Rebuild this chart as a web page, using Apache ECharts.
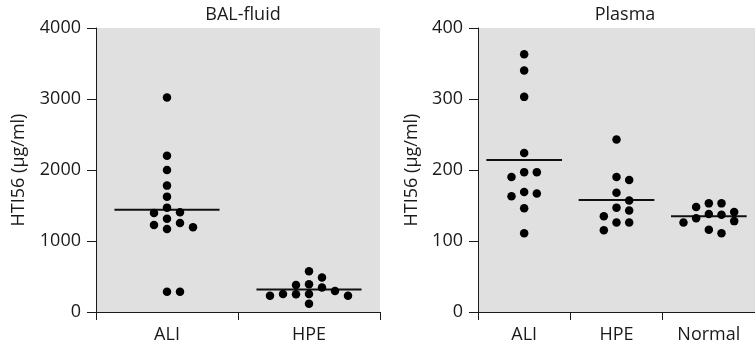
<!DOCTYPE html>
<html>
<head>
<meta charset="utf-8">
<script src="https://cdn.jsdelivr.net/npm/echarts@6/dist/echarts.min.js"></script>
<style>
html,body{margin:0;padding:0;background:#fff;}
#chart{width:755px;height:347px;}
</style>
</head>
<body>
<div id="chart"></div>
<script>
// ---- data ----
const balCategories = ['ALI', 'HPE'];
const balALI = [3020, 2200, 2000, 1780, 1625, 1470, 1405, 1395, 1315, 1255, 1225, 1195, 1170, 285, 285];
const balHPE = [575, 485, 390, 380, 345, 295, 255, 255, 250, 230, 230, 115];
const balTicks = [0, 1000, 2000, 3000, 4000];

const plasmaCategories = ['ALI', 'HPE', 'Normal'];
const plasmaALI = [363, 340, 303, 224, 197, 197, 190, 169, 167, 163, 146, 111];
const plasmaHPE = [243, 190, 186, 168, 157, 147, 143, 135, 126, 126, 115];
const plasmaNormal = [153, 153, 148, 141, 138, 137, 132, 128, 126, 116, 111];
const plasmaTicks = [0, 100, 200, 300, 400];

const titles = ['BAL-fluid', 'Plasma'];
const yName = 'HTI56 (µg/ml)';

// ---- layout ----
const FONT = 'Open Sans';
const FS = 18;
const GRID_TOP = 28, GRID_H = 284, GRID_W = 284;
const grids = [{left: 96, nameGap: 68}, {left: 478, nameGap: 57}];
const DOT = 8.5;
const STEP_PX = 13;

function mean(a) { return a.reduce((s, v) => s + v, 0) / a.length; }

// simple slot-based beeswarm layout computed in pixel space
function swarm(values, catIndex, yMax, catWidthPx) {
  const pxPerUnit = GRID_H / yMax;
  const sorted = values.slice().sort((a, b) => b - a);
  const placed = [];
  const order = [0, 1, -1, 2, -2, 3, -3, 4, -4];
  return sorted.map(v => {
    const y = v * pxPerUnit;
    let slot = 0;
    for (const k of order) {
      if (!placed.some(p => p.slot === k && Math.abs(p.y - y) < 9)) { slot = k; break; }
    }
    placed.push({slot, y});
    return [catIndex + slot * STEP_PX / catWidthPx, v];
  });
}

function panel(gi, cats, groups, ticks, halfLen) {
  const yMax = ticks[ticks.length - 1];
  const catW = GRID_W / cats.length;
  const xVal = gi * 2 + 1;
  const series = [];
  groups.forEach((vals, i) => {
    series.push({
      type: 'scatter', xAxisIndex: xVal, yAxisIndex: gi,
      symbol: 'circle', symbolSize: DOT,
      itemStyle: {color: '#000', opacity: 1},
      data: swarm(vals, i, yMax, catW),
      silent: true, z: 3
    });
    const m = mean(vals);
    series.push({
      type: 'line', xAxisIndex: xVal, yAxisIndex: gi,
      data: [[i - halfLen, m], [i + halfLen, m]],
      symbol: 'none', lineStyle: {color: '#111', width: 2, opacity: 1},
      silent: true, z: 2
    });
  });
  return series;
}

const axisLineStyle = {color: '#1a1a1a', width: 1};
const labelStyle = {color: '#1a1a1a', fontSize: FS, fontFamily: FONT};

function xAxes(gi, cats) {
  return [
    {
      type: 'category', gridIndex: gi, data: cats, boundaryGap: true,
      axisLine: {show: true, onZero: false, lineStyle: axisLineStyle},
      axisTick: {show: true, length: 8, alignWithLabel: false, lineStyle: axisLineStyle},
      axisLabel: Object.assign({margin: 14}, labelStyle),
      splitLine: {show: false}
    },
    {
      type: 'value', gridIndex: gi, show: false, min: -0.5, max: cats.length - 0.5,
      axisLine: {onZero: false},
      splitLine: {show: false}
    }
  ];
}

function yAxis(gi, ticks) {
  return {
    type: 'value', gridIndex: gi, min: ticks[0], max: ticks[ticks.length - 1],
    interval: ticks[1] - ticks[0],
    axisLine: {show: true, onZero: false, lineStyle: axisLineStyle},
    axisTick: {show: true, length: 9, lineStyle: axisLineStyle},
    axisLabel: Object.assign({margin: 15, formatter: v => String(v)}, labelStyle),
    splitLine: {show: false},
    name: yName, nameLocation: 'middle', nameRotate: 90, nameGap: grids[gi].nameGap,
    nameTextStyle: {color: '#1a1a1a', fontSize: FS, fontFamily: FONT}
  };
}

const option = {
  animation: false,
  backgroundColor: '#fff',
  title: titles.map((t, i) => ({
    text: t, left: grids[i].left + GRID_W / 2, top: 1, textAlign: 'center',
    textStyle: {color: '#1a1a1a', fontSize: FS, fontWeight: 'normal', fontFamily: FONT}
  })),
  grid: grids.map(g => ({
    left: g.left, top: GRID_TOP, width: GRID_W, height: GRID_H,
    show: true, backgroundColor: '#e0e0e0', borderWidth: 0, containLabel: false
  })),
  xAxis: [...xAxes(0, balCategories), ...xAxes(1, plasmaCategories)],
  yAxis: [yAxis(0, balTicks), yAxis(1, plasmaTicks)],
  series: [
    ...panel(0, balCategories, [balALI, balHPE], balTicks, 0.37),
    ...panel(1, plasmaCategories, [plasmaALI, plasmaHPE, plasmaNormal], plasmaTicks, 0.41)
  ]
};

const chart = echarts.init(document.getElementById('chart'), null, {renderer: 'canvas'});
chart.setOption(option);
</script>
</body>
</html>
